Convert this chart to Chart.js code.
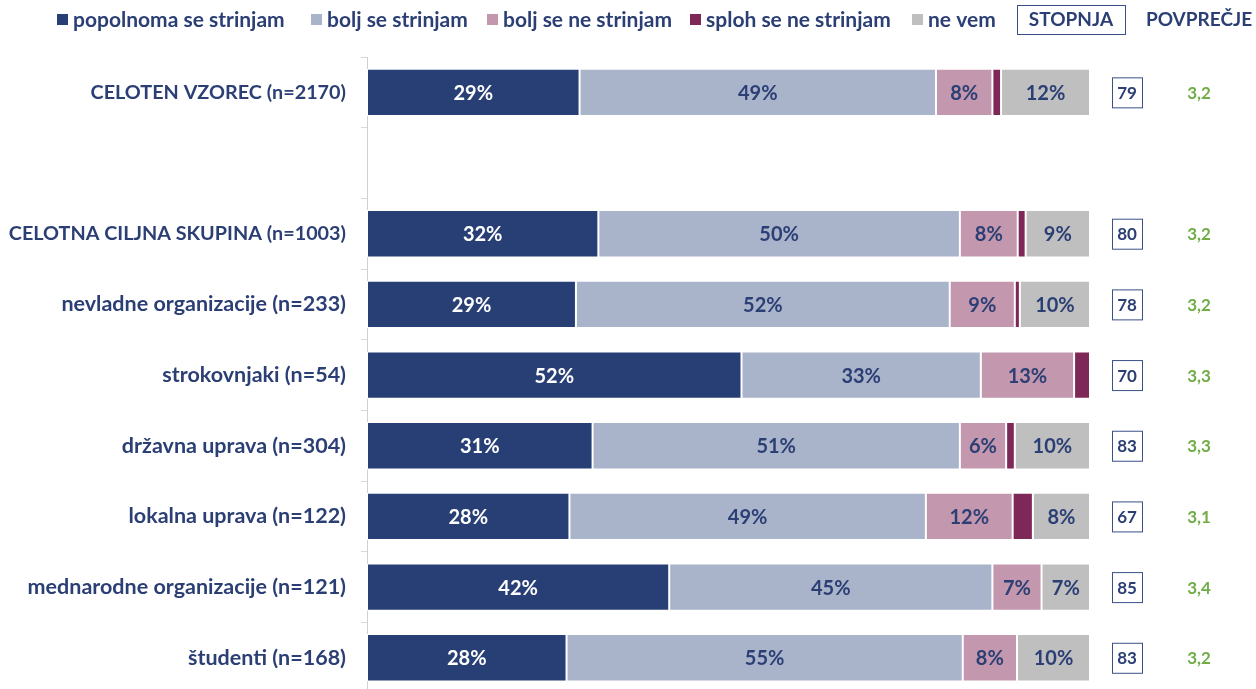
<!DOCTYPE html>
<html lang="sl">
<head>
<meta charset="UTF-8">
<title>Stopnja strinjanja</title>
<script src="https://cdn.jsdelivr.net/npm/chart.js"></script>
<style>
  html, body { margin: 0; padding: 0; background: #fff; overflow: hidden; }
  canvas { display: block; }
</style>
</head>
<body>
<canvas id="chart" width="1256" height="720"></canvas>
<script>
// data (percent of respondents)
const categories = [
    'CELOTEN VZOREC (n=2170)',
    '',
    'CELOTNA CILJNA SKUPINA (n=1003)',
    'nevladne organizacije (n=233)',
    'strokovnjaki (n=54)',
    'državna uprava (n=304)',
    'lokalna uprava (n=122)',
    'mednarodne organizacije (n=121)',
    'študenti (n=168)'
];
const seriesNames = ['popolnoma se strinjam', 'bolj se strinjam', 'bolj se ne strinjam', 'sploh se ne strinjam', 'ne vem'];
const popolnoma = [29.4, null, 32.0, 28.9, 51.8, 31.2, 28.0, 41.8, 27.6];
const bolj      = [49.3, null, 50.0, 51.7, 33.1, 50.8, 49.3, 44.7, 54.8];
const boljNe    = [7.8,  null, 8.0,  9.0,  12.9, 6.4,  12.0, 6.8,  7.5];
const splohNe   = [1.2,  null, 1.1,  0.7,  2.2,  1.2,  2.8,  0,    0];
const neVem     = [12.3, null, 8.9,  9.7,  0,    10.4, 7.9,  6.7,  10.1];
const stopnja   = [79, null, 80, 78, 70, 83, 67, 85, 83];
const povprecje = [3.2, null, 3.2, 3.2, 3.3, 3.3, 3.1, 3.4, 3.2];

const colors = ['#283f76', '#a9b3ca', '#c397ad', '#7e2857', '#bfbfbf'];
const textBlue = '#2b3f75';
const green = '#70ad47';
const fontFamily = 'Lato, "Open Sans", sans-serif';

// percentages inside the segments
const segmentLabels = {
    id: 'segmentLabels',
    afterDatasetsDraw(chart) {
        const ctx = chart.ctx;
        ctx.save();
        ctx.font = 'bold 20px ' + fontFamily;
        ctx.textAlign = 'center';
        ctx.textBaseline = 'middle';
        chart.data.datasets.forEach((ds, di) => {
            if (di === 3) return; // "sploh se ne strinjam" has no labels
            chart.getDatasetMeta(di).data.forEach((bar, i) => {
                const v = ds.data[i];
                if (v == null || v < 4) return;
                const p = bar.getCenterPoint();
                ctx.fillStyle = di === 0 ? '#ffffff' : textBlue;
                ctx.fillText(Math.round(v) + '%', p.x, p.y + 1);
            });
        });
        ctx.restore();
    }
};

// STOPNJA boxes and POVPREČJE values on the right, plus the legend row
const sideColumns = {
    id: 'sideColumns',
    afterDraw(chart) {
        const ctx = chart.ctx;
        const y = chart.scales.y;
        const right = chart.chartArea.right;
        ctx.save();
        ctx.textAlign = 'center';
        ctx.textBaseline = 'middle';
        ctx.font = 'bold 17px ' + fontFamily;
        categories.forEach((c, i) => {
            if (stopnja[i] == null) return;
            const cy = y.getPixelForValue(i);
            const bx = right + 37;
            ctx.strokeStyle = '#3a5088';
            ctx.lineWidth = 1;
            ctx.strokeRect(bx - 15 + 0.5, cy - 15 + 0.5, 30, 30);
            ctx.fillStyle = textBlue;
            ctx.fillText(String(stopnja[i]), bx, cy + 1);
            ctx.fillStyle = green;
            ctx.fillText(povprecje[i].toFixed(1).replace('.', ','), right + 109, cy + 1);
        });

        // legend
        ctx.font = 'bold 21px ' + fontFamily;
        ctx.textAlign = 'left';
        const ly = 20;
        const markerX = [57, 311, 487, 690, 912];
        seriesNames.forEach((name, i) => {
            ctx.fillStyle = colors[i];
            ctx.fillRect(markerX[i], ly - 6, 11, 11);
            ctx.fillStyle = textBlue;
            ctx.fillText(name, markerX[i] + 16, ly);
        });
        ctx.font = 'bold 19px ' + fontFamily;
        ctx.strokeStyle = '#3a5088';
        ctx.strokeRect(1017.5, 5.5, 108, 29);
        ctx.textAlign = 'center';
        ctx.fillText('STOPNJA', 1071, ly);
        ctx.fillText('POVPREČJE', 1199, ly);
        ctx.restore();
    }
};

const datasets = [popolnoma, bolj, boljNe, splohNe, neVem].map((d, i) => ({
    label: seriesNames[i],
    data: d,
    backgroundColor: colors[i],
    borderColor: '#ffffff',
    borderWidth: 1,
    borderSkipped: false,
    barPercentage: 0.67,
    categoryPercentage: 1.0
}));

new Chart(document.getElementById('chart'), {
    type: 'bar',
    data: { labels: categories, datasets: datasets },
    options: {
        indexAxis: 'y',
        responsive: false,
        animation: false,
        layout: { padding: { top: 57, right: 166, bottom: 0, left: 0 } },
        plugins: {
            legend: { display: false },
            tooltip: { enabled: false }
        },
        scales: {
            x: { stacked: true, min: 0, max: 100, display: false },
            y: {
                stacked: true,
                afterFit(scale) { scale.width = 367; },
                grid: {
                    drawOnChartArea: false,
                    drawTicks: true,
                    tickLength: 6,
                    color: '#d9d9d9',
                    offset: true
                },
                border: { display: true, color: '#d0d0d0' },
                ticks: {
                    padding: 15,
                    color: textBlue,
                    font: (c) => {
                        // upper-case group names are set a bit smaller
                        const lbl = categories[c.index] || '';
                        const caps = /^[A-ZČŠŽ]{3}/.test(lbl);
                        return { family: fontFamily, size: caps ? 19.8 : 21.5, weight: 'bold' };
                    }
                }
            }
        }
    },
    plugins: [segmentLabels, sideColumns]
});
</script>
</body>
</html>
